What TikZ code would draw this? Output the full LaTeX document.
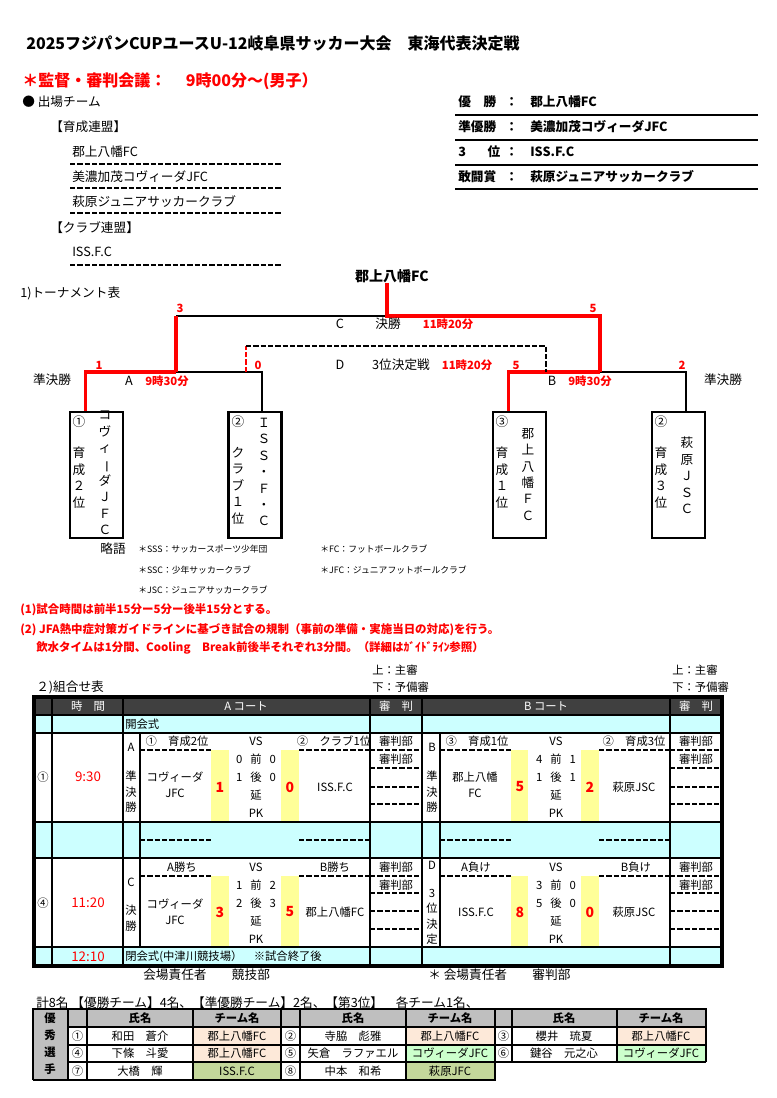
\documentclass[tikz,border=0pt]{standalone}
\usepackage{fontspec}
\setmainfont{Noto Sans CJK JP}
\usepackage{xcolor}
\usetikzlibrary{positioning, calc}

\definecolor{hdrgrey}{RGB}{64,64,64}
\definecolor{aqua}{RGB}{204,255,255}
\definecolor{lemon}{RGB}{255,255,153}
\definecolor{peach}{RGB}{253,233,217}
\definecolor{mint}{RGB}{204,255,204}
\definecolor{olive}{RGB}{196,215,155}
\definecolor{lgrey}{RGB}{191,191,191}

% long vowel mark for vertical text
\newcommand{\tatebo}{\rotatebox[origin=c]{-90}{ー}}

\begin{document}
\begin{tikzpicture}[
   x=0.75pt, y=-0.75pt,
   ttl/.style={anchor=west, inner sep=0pt, font=\bfseries\fontsize{12}{14}\selectfont},
   lbl/.style={anchor=west, inner sep=0pt, font=\fontsize{9.5}{11}\selectfont},
   lblc/.style={lbl, anchor=center},
   blbl/.style={anchor=west, inner sep=0pt, font=\bfseries\fontsize{9.5}{11}\selectfont},
   abbr/.style={anchor=west, inner sep=0pt, font=\fontsize{6.6}{8}\selectfont},
   note/.style={anchor=west, inner sep=0pt, text=red, font=\bfseries\fontsize{8.6}{10}\selectfont},
   rtime/.style={inner sep=0pt, text=red, font=\bfseries\fontsize{8.5}{10}\selectfont},
   cell/.style={inner sep=0pt, align=center, font=\fontsize{8.5}{12}\selectfont},
   hcell/.style={cell, text=white},
   bcell/.style={cell, font=\bfseries\fontsize{8.5}{12}\selectfont},
   midcell/.style={cell, font=\fontsize{8.5}{13.5}\selectfont},
   clock/.style={inner sep=0pt, text=red, font=\fontsize{10}{12}\selectfont},
   score/.style={inner sep=0pt, text=red, font=\bfseries\fontsize{10.5}{12}\selectfont},
   vtxt/.style={anchor=north, align=center, inner sep=0pt, font=\fontsize{9.5}{12.3}\selectfont},
   vcell/.style={anchor=north, align=center, inner sep=0pt, font=\fontsize{8.5}{11.6}\selectfont},
   teambox/.style={draw, line width=1.6pt, minimum width=39.75pt, minimum height=94.5pt, inner sep=0pt},
   winline/.style={red, line width=2.3pt},
   plainline/.style={black, line width=1.5pt},
   dashline/.style={line width=1.3pt, dash pattern=on 4pt off 1.5pt},
   grid/.style={line width=1.5pt},
   rule/.style={line width=0.9pt}
]
   \fill[white] (0,0) rectangle (777,1098);
   \useasboundingbox (0,0) rectangle (777,1098);

   % Heading
   \node[ttl] (title) at (26,43) {2025フジパンCUPユースU-12岐阜県サッカー大会　東海代表決定戦};
   \node[ttl, text=red] (meeting) at (22,81) {＊監督・審判会議：　 9時00分～(男子）};

   % Teams
   \node[lbl] (entry) at (22,102) {● 出場チーム};
   \node[lbl] (ikusei) at (50,127) {【育成連盟】};
   \node[lbl] (team1) at (72,152) {郡上八幡FC};
   \node[lbl] (team2) at (72,177) {美濃加茂コヴィーダJFC};
   \node[lbl] (team3) at (72,202) {萩原ジュニアサッカークラブ};
   \node[lbl] (club) at (50,228) {【クラブ連盟】};
   \node[lbl] (team4) at (72,252) {ISS.F.C};
   \draw[dashline] (70,164) -- (282,164);
   \draw[dashline] (70,188) -- (282,188);
   \draw[dashline] (70,213) -- (282,213);
   \draw[dashline] (70,265) -- (282,265);

   % Results
   \node[blbl] (res1) at (458,102) {優　勝};
   \node[blbl] (res2) at (458,127) {準優勝};
   \node[blbl] (res3) at (458,152) {3\hspace{1.7em}位};
   \node[blbl] (res4) at (458,177) {敢闘賞};
   \node[blbl] (col1) at (505,102) {：};
   \node[blbl] (col2) at (505,127) {：};
   \node[blbl] (col3) at (505,152) {：};
   \node[blbl] (col4) at (505,177) {：};
   \node[blbl] (win1) at (530,102) {郡上八幡FC};
   \node[blbl] (win2) at (530,127) {美濃加茂コヴィーダJFC};
   \node[blbl] (win3) at (530,152) {ISS.F.C};
   \node[blbl] (win4) at (530,177) {萩原ジュニアサッカークラブ};
   \draw[rule] (455,115) -- (758,115);
   \draw[rule] (455,140) -- (758,140);
   \draw[rule] (455,165) -- (758,165);
   \draw[rule] (455,189) -- (758,189);

   % Tournament
   \node[blbl, anchor=center, font=\bfseries\fontsize{10.5}{12}\selectfont] (champ) at (392,276) {郡上八幡FC};
   \node[lbl] (bracket) at (20,293) {1)トーナメント表};

   \node[teambox] (box1) at (96.5,475) {};
   \node[teambox] (box2) at (255,475) {};
   \node[teambox] (box3) at (519.5,475) {};
   \node[teambox] (box4) at (678.5,475) {};

   \coordinate (fmid) at (387,316);
   \coordinate (semiA) at (176,372);
   \coordinate (semiB) at (600,372);
   \coordinate (dL) at (246,372);
   \coordinate (dR) at (546,372);
   \coordinate (dTL) at (246,346);
   \coordinate (dTR) at (546,346);

   \draw[plainline] (semiA |- fmid) -- (fmid);
   \draw[plainline] (semiA) -| ($(box2.north west)+(35,0)$);
   \draw[plainline] (semiB) -| ($(box4.north west)+(35,0)$);
   \draw[winline] (semiA |- fmid) -- (semiA);
   \draw[winline] (champ.south -| fmid) -- (fmid) -| (semiB);
   \draw[winline] ($(box1.north west)+(17,0)$) |- (semiA);
   \draw[winline] ($(box3.north west)+(17,0)$) |- (semiB);
   \draw[dashline, red] (dL) -- (dTL);
   \draw[dashline] (dTL) -- (dTR) -- (dR);

   \node[rtime] (goal3) at (180,308) {3};
   \node[rtime] (goal5) at (593,308) {5};
   \node[lblc] (matchC) at (340,324) {C};
   \node[lblc] (final) at (388,324) {決勝};
   \node[rtime] (timeC) at (448,324) {11時20分};
   \node[lblc] (matchD) at (340,365) {D};
   \node[lblc] (third) at (401,365) {3位決定戦};
   \node[rtime] (timeD) at (467,365) {11時20分};
   \node[rtime] (goalD) at (516,365) {5};
   \node[rtime] (goalA2) at (258,365) {0};
   \node[rtime] (goalA1) at (99,365) {1};
   \node[rtime] (goalB2) at (682,365) {2};
   \node[lblc] (semiL) at (52,380) {準決勝};
   \node[lblc] (semiR) at (723,380) {準決勝};
   \node[lblc] (matchA) at (129,381) {A};
   \node[rtime] (timeA) at (167,381) {9時30分};
   \node[lblc] (matchB) at (552,381) {B};
   \node[rtime] (timeB) at (590,381) {9時30分};

   % Team boxes
   \node[lblc] (seed1) at (79,422) {①};
   \node[vtxt] (rank1) at (79,447) {育\\成\\２\\位};
   \node[vtxt] (name1) at (105,411) {コ\\ヴ\\ィ\\\tatebo\\ダ\\Ｊ\\Ｆ\\Ｃ};
   \node[lblc] (seed2) at (238,422) {②};
   \node[vtxt] (rank2) at (238,447) {ク\\ラ\\ブ\\１\\位};
   \node[vtxt] (name2) at (264,418) {Ｉ\\Ｓ\\Ｓ\\・\\Ｆ\\・\\Ｃ};
   \node[lblc] (seed3) at (502,422) {③};
   \node[vtxt] (rank3) at (502,447) {育\\成\\１\\位};
   \node[vtxt] (name3) at (528,428) {郡\\上\\八\\幡\\Ｆ\\Ｃ};
   \node[lblc] (seed4) at (661,422) {②};
   \node[vtxt] (rank4) at (661,447) {育\\成\\３\\位};
   \node[vtxt] (name4) at (687,437) {萩\\原\\Ｊ\\Ｓ\\Ｃ};

   % Abbreviations
   \node[lblc] (abbrhead) at (113,549) {略語};
   \node[abbr] (abbr1) at (138,549) {＊SSS：サッカースポーツ少年団};
   \node[abbr] (abbr2) at (320,549) {＊FC：フットボールクラブ};
   \node[abbr] (abbr3) at (138,570) {＊SSC：少年サッカークラブ};
   \node[abbr] (abbr4) at (320,570) {＊JFC：ジュニアフットボールクラブ};
   \node[abbr] (abbr5) at (138,590) {＊JSC：ジュニアサッカークラブ};

   % Rules
   \node[note] (rule1) at (20,610) {(1)試合時間は前半15分ー5分ー後半15分とする。};
   \node[note] (rule2) at (20,630) {(2) JFA熱中症対策ガイドラインに基づき試合の規制（事前の準備・実施当日の対応)を行う。};
   \node[note] (rule3) at (36,648) {飲水タイムは1分間、Cooling　Break前後半それぞれ3分間。（詳細はｶﾞｲﾄﾞﾗｲﾝ参照）};

   % Schedule table
   \node[cell, anchor=west] (refA1) at (372,670) {上：主審};
   \node[cell, anchor=west] (refA2) at (372,687) {下：予備審};
   \node[cell, anchor=west] (refB1) at (672,670) {上：主審};
   \node[cell, anchor=west] (refB2) at (672,687) {下：予備審};
   \node[lbl] (schedule) at (36,687) {２)組合せ表};

   \fill[hdrgrey] (34,697) rectangle (722,715);
   \fill[aqua] (34,715) rectangle (722,733);
   \fill[aqua] (34,822) rectangle (722,858);
   \fill[aqua] (34,947) rectangle (722,966);
   \fill[lemon] (211,750) rectangle (229,822);
   \fill[lemon] (281,750) rectangle (299,822);
   \fill[lemon] (511,750) rectangle (528,822);
   \fill[lemon] (581,750) rectangle (599,822);
   \fill[lemon] (211,876) rectangle (229,947);
   \fill[lemon] (281,876) rectangle (299,947);
   \fill[lemon] (511,876) rectangle (528,947);
   \fill[lemon] (581,876) rectangle (599,947);

   \draw[grid] (34,715) -- (722,715) (34,733) -- (722,733) (34,822) -- (722,822)
      (34,858) -- (722,858) (34,947) -- (722,947);
   \draw[grid] (52,697) -- (52,966) (123,697) -- (123,966) (370,697) -- (370,966)
      (422,697) -- (422,966) (670,697) -- (670,966);
   \draw[grid] (140,733) -- (140,947) (440,733) -- (440,947);
   \draw[line width=2.4pt] (34,697) rectangle (722,966);

   \draw[dashline] (140,750) -- (211,750) (299,750) -- (370,750) (440,750) -- (511,750) (599,750) -- (670,750);
   \draw[dashline] (140,840) -- (211,840) (299,840) -- (370,840) (440,840) -- (511,840) (599,840) -- (670,840);
   \draw[dashline] (140,876) -- (211,876) (299,876) -- (370,876) (440,876) -- (511,876) (599,876) -- (670,876);
   \draw[dashline] (370,750) -- (422,750) (370,768) -- (422,768) (370,787) -- (422,787) (370,804) -- (422,804);
   \draw[dashline] (670,750) -- (722,750) (670,768) -- (722,768) (670,787) -- (722,787) (670,804) -- (722,804);
   \draw[dashline] (370,876) -- (422,876) (370,893) -- (422,893) (370,911) -- (422,911) (370,929) -- (422,929);
   \draw[dashline] (670,876) -- (722,876) (670,893) -- (722,893) (670,911) -- (722,911) (670,929) -- (722,929);

   \node[hcell] (hTime) at (88,706) {時　間};
   \node[hcell] (hCourtA) at (246,706) {A コート};
   \node[hcell] (hRefA) at (396,706) {審　判};
   \node[hcell] (hCourtB) at (546,706) {B コート};
   \node[hcell] (hRefB) at (696,706) {審　判};
   \node[cell, anchor=west] (opening) at (125,724) {開会式};

   % Round 1
   \node[cell] (slot1) at (43,777) {①};
   \node[clock] (clock1) at (88,777) {9:30};
   \node[cell] (gameA) at (131,747) {A};
   \node[vcell] (gameAtxt) at (131,771) {準\\決\\勝};
   \node[cell] (a1l) at (177,741) {①　育成2位};
   \node[cell] (a1vs) at (256,741) {VS};
   \node[cell] (a1r) at (334,741) {②　クラブ1位};
   \node[cell] (a1tl) at (175,785) {コヴィーダ\\JFC};
   \node[score] (a1s1) at (220,787) {1};
   \node[midcell] (a1mid) at (256,786) {0\hspace{0.7em}前\hspace{0.7em}0\\1\hspace{0.7em}後\hspace{0.7em}0\\延\\PK};
   \node[score] (a1s2) at (290,787) {0};
   \node[cell] (a1tr) at (335,787) {ISS.F.C};
   \node[cell] (a1ref1) at (396,741) {審判部};
   \node[cell] (a1ref2) at (396,759) {審判部};

   \node[cell] (gameB) at (432,747) {B};
   \node[vcell] (gameBtxt) at (432,771) {準\\決\\勝};
   \node[cell] (b1l) at (477,741) {③　育成1位};
   \node[cell] (b1vs) at (556,741) {VS};
   \node[cell] (b1r) at (634,741) {②　育成3位};
   \node[cell] (b1tl) at (475,785) {郡上八幡\\FC};
   \node[score] (b1s1) at (520,787) {5};
   \node[midcell] (b1mid) at (556,786) {4\hspace{0.7em}前\hspace{0.7em}1\\1\hspace{0.7em}後\hspace{0.7em}1\\延\\PK};
   \node[score] (b1s2) at (590,787) {2};
   \node[cell] (b1tr) at (634,787) {萩原JSC};
   \node[cell] (b1ref1) at (696,741) {審判部};
   \node[cell] (b1ref2) at (696,759) {審判部};

   % Round 2
   \node[cell] (slot4) at (43,903) {④};
   \node[clock] (clock4) at (88,903) {11:20};
   \node[cell] (gameC) at (131,882) {C};
   \node[vcell] (gameCtxt) at (131,905) {決\\勝};
   \node[cell] (c1l) at (182,867) {A勝ち};
   \node[cell] (c1vs) at (256,867) {VS};
   \node[cell] (c1r) at (335,867) {B勝ち};
   \node[cell] (c1tl) at (175,912) {コヴィーダ\\JFC};
   \node[score] (c1s1) at (220,912) {3};
   \node[midcell] (c1mid) at (256,912) {1\hspace{0.7em}前\hspace{0.7em}2\\2\hspace{0.7em}後\hspace{0.7em}3\\延\\PK};
   \node[score] (c1s2) at (290,912) {5};
   \node[cell] (c1tr) at (335,912) {郡上八幡FC};
   \node[cell] (c1ref1) at (396,867) {審判部};
   \node[cell] (c1ref2) at (396,885) {審判部};

   \node[cell] (gameD) at (432,865) {D};
   \node[vcell] (gameDtxt) at (432,889) {3\\位\\決\\定};
   \node[cell] (d1l) at (476,867) {A負け};
   \node[cell] (d1vs) at (556,867) {VS};
   \node[cell] (d1r) at (636,867) {B負け};
   \node[cell] (d1tl) at (476,912) {ISS.F.C};
   \node[score] (d1s1) at (520,912) {8};
   \node[midcell] (d1mid) at (556,912) {3\hspace{0.7em}前\hspace{0.7em}0\\5\hspace{0.7em}後\hspace{0.7em}0\\延\\PK};
   \node[score] (d1s2) at (590,912) {0};
   \node[cell] (d1tr) at (634,912) {萩原JSC};
   \node[cell] (d1ref1) at (696,867) {審判部};
   \node[cell] (d1ref2) at (696,885) {審判部};

   \node[clock] (clock5) at (88,957) {12:10};
   \node[cell, anchor=west] (closing) at (125,957) {閉会式(中津川競技場）　※試合終了後};
   \node[lbl] (venue1) at (143,975) {会場責任者　　競技部};
   \node[lbl] (venue2) at (428,975) {＊ 会場責任者　　審判部};

   % Best players
   \node[lbl] (mvpnote) at (36,1003) {計8名 【優勝チーム】4名、【準優勝チーム】2名、【第3位】　各チーム1名、};
   \fill[lgrey] (33,1009) rectangle (68,1080);
   \fill[lgrey] (68,1009) rectangle (706,1027);
   \fill[peach] (193,1027) rectangle (281,1045);
   \fill[peach] (406,1027) rectangle (495,1045);
   \fill[peach] (617,1027) rectangle (706,1045);
   \fill[peach] (193,1045) rectangle (281,1062);
   \fill[mint] (406,1045) rectangle (495,1062);
   \fill[mint] (617,1045) rectangle (706,1062);
   \fill[olive] (193,1062) rectangle (281,1080);
   \fill[olive] (406,1062) rectangle (495,1080);

   \draw[grid] (68,1027) -- (706,1027) (68,1045) -- (706,1045) (68,1062) -- (706,1062);
   \draw[grid] (87,1009) -- (87,1080) (193,1009) -- (193,1080) (281,1009) -- (281,1080)
      (300,1009) -- (300,1080) (406,1009) -- (406,1080) (512,1009) -- (512,1062) (617,1009) -- (617,1062);
   \draw[line width=2.2pt] (33,1080) -- (33,1009) -- (706,1009) -- (706,1062)
      (495,1009) -- (495,1080) -- (33,1080) (68,1009) -- (68,1080);

   \node[bcell, font=\bfseries\fontsize{8.5}{12.7}\selectfont] (mvp) at (50,1044) {優\\秀\\選\\手};
   \node[bcell] (hName1) at (140,1018) {氏名};
   \node[bcell] (hTeam1) at (237,1018) {チーム名};
   \node[bcell] (hName2) at (353,1018) {氏名};
   \node[bcell] (hTeam2) at (450,1018) {チーム名};
   \node[bcell] (hName3) at (564,1018) {氏名};
   \node[bcell] (hTeam3) at (661,1018) {チーム名};

   \node[cell] (p1) at (77.5,1036) {①};
   \node[cell] (p1n) at (140,1036) {和田　蒼介};
   \node[cell] (p1t) at (237,1036) {郡上八幡FC};
   \node[cell] (p2) at (290.5,1036) {②};
   \node[cell] (p2n) at (353,1036) {寺脇　彪雅};
   \node[cell] (p2t) at (450,1036) {郡上八幡FC};
   \node[cell] (p3) at (503.5,1036) {③};
   \node[cell] (p3n) at (564,1036) {櫻井　琉夏};
   \node[cell] (p3t) at (661,1036) {郡上八幡FC};
   \node[cell] (p4) at (77.5,1053) {④};
   \node[cell] (p4n) at (140,1053) {下條　斗愛};
   \node[cell] (p4t) at (237,1053) {郡上八幡FC};
   \node[cell] (p5) at (290.5,1053) {⑤};
   \node[cell] (p5n) at (353,1053) {矢倉　ラファエル};
   \node[cell] (p5t) at (450,1053) {コヴィーダJFC};
   \node[cell] (p6) at (503.5,1053) {⑥};
   \node[cell] (p6n) at (564,1053) {鍵谷　元之心};
   \node[cell] (p6t) at (661,1053) {コヴィーダJFC};
   \node[cell] (p7) at (77.5,1071) {⑦};
   \node[cell] (p7n) at (140,1071) {大橋　輝};
   \node[cell] (p7t) at (237,1071) {ISS.F.C};
   \node[cell] (p8) at (290.5,1071) {⑧};
   \node[cell] (p8n) at (353,1071) {中本　和希};
   \node[cell] (p8t) at (450,1071) {萩原JFC};
\end{tikzpicture}
\end{document}
